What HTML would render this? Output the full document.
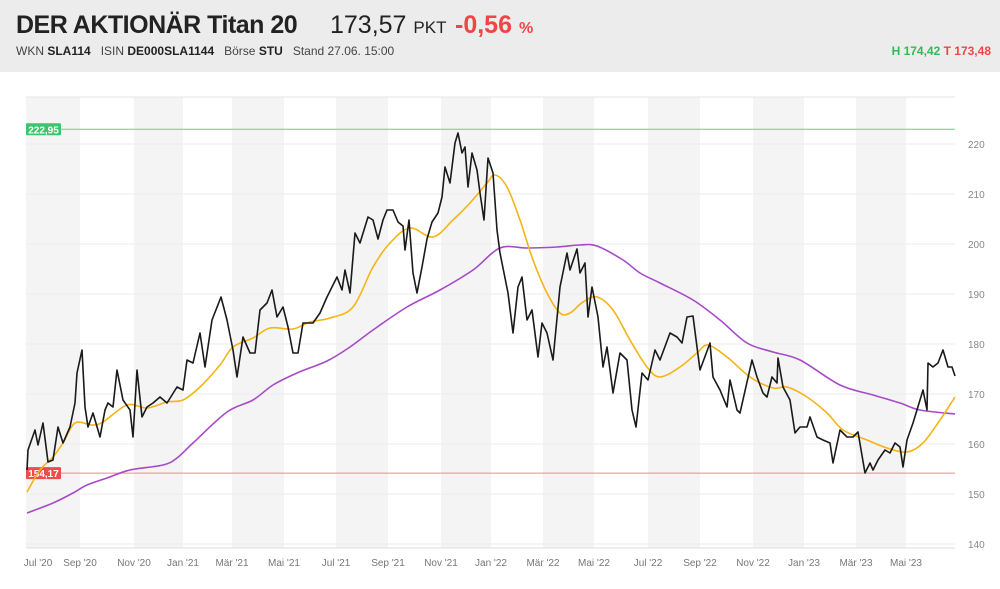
<!DOCTYPE html>
<html><head><meta charset="utf-8"><style>
body{margin:0;width:1000px;height:589px;background:#fff;font-family:"Liberation Sans",sans-serif;overflow:hidden}
#hdr{position:absolute;left:0;top:0;width:1000px;height:72px;background:#ececed}
.t{position:absolute;white-space:nowrap}
</style></head><body>
<div id="hdr">
 <div class="t" style="left:16px;top:11px;font-size:25px;font-weight:bold;color:#222;letter-spacing:-0.5px">DER AKTIONÄR Titan 20</div>
 <div class="t" style="left:330px;top:11px;font-size:25px;color:#222">173,57 <span style="font-size:17px">PKT</span></div>
 <div class="t" style="left:455px;top:11px;font-size:25px;font-weight:bold;color:#f04545">-0,56 <span style="font-size:16px">%</span></div>
 <div class="t" style="left:16px;top:44px;font-size:12px;color:#444">WKN <b style="color:#222">SLA114</b>&nbsp;&nbsp; ISIN <b style="color:#222">DE000SLA1144</b>&nbsp;&nbsp; Börse <b style="color:#222">STU</b>&nbsp;&nbsp; Stand 27.06. 15:00</div>
 <div class="t" style="right:9px;top:44px;font-size:12px;font-weight:bold"><span style="color:#2dbb55">H 174,42</span> <span style="color:#f04545">T 173,48</span></div>
</div>
<svg id="chart" width="1000" height="589" style="position:absolute;left:0;top:0"></svg>
<script>
const tickMonths=[0.32,2,4.16,6.12,8.08,10.16,12.24,14.32,16.44,18.44,20.52,22.56,24.72,26.8,28.92,30.96,33.04,35.04];
const tickLabels=["Jul '20","Sep '20","Nov '20","Jan '21","Mär '21","Mai '21","Jul '21","Sep '21","Nov '21","Jan '22","Mär '22","Mai '22","Jul '22","Sep '22","Nov '22","Jan '23","Mär '23","Mai '23"];
const yTicks=[140,150,160,170,180,190,200,210,220];
const highValue=222.95, lowValue=154.17;
const priceT=[-0.12,-0.08,0.2,0.32,0.52,0.72,0.92,1.12,1.32,1.6,1.8,1.88,2.08,2.2,2.32,2.52,2.8,3.0,3.12,3.32,3.48,3.72,4.0,4.12,4.28,4.48,4.68,4.92,5.2,5.48,5.88,6.12,6.28,6.52,6.8,7.0,7.28,7.64,7.88,8.12,8.28,8.52,8.8,9.0,9.2,9.48,9.68,9.88,10.12,10.32,10.52,10.72,10.92,11.32,11.6,11.88,12.28,12.48,12.6,12.8,13.0,13.2,13.52,13.72,13.92,14.12,14.28,14.52,14.72,14.92,15.0,15.16,15.32,15.48,15.68,15.88,16.08,16.32,16.48,16.6,16.8,17.0,17.12,17.28,17.4,17.52,17.68,17.88,18.0,18.16,18.32,18.52,18.68,18.8,18.96,19.12,19.32,19.52,19.68,19.88,20.08,20.32,20.48,20.68,20.92,21.2,21.48,21.6,21.88,22.0,22.2,22.32,22.48,22.72,22.92,23.08,23.32,23.6,23.88,24.08,24.24,24.48,24.72,25.0,25.2,25.6,25.88,26.08,26.28,26.52,26.68,26.8,27.2,27.32,27.6,27.88,28.0,28.28,28.4,28.88,29.08,29.32,29.48,29.68,29.88,29.92,30.12,30.4,30.6,30.8,31.08,31.2,31.48,31.72,32.0,32.12,32.4,32.68,32.92,33.12,33.4,33.6,33.72,33.92,34.2,34.4,34.6,34.8,34.92,35.08,35.32,35.6,35.72,35.88,35.92,36.12,36.32,36.52,36.72,36.88,37.0];
const priceV=[154.8,158.8,162.8,159.8,164.2,156.4,156.8,163.4,160.2,163.4,168.2,174.2,178.8,167.4,163.4,166.2,161.4,166.8,168.2,167.4,174.8,168.8,166.8,161.4,174.8,165.4,167.4,168.2,169.4,168.2,171.4,170.8,176.8,176.2,182.2,175.4,184.8,189.4,184.8,178.8,173.4,181.4,178.2,178.2,186.8,188.2,190.8,185.4,187.4,183.4,178.2,178.2,184.2,184.2,186.2,189.4,193.4,190.8,194.8,190.2,202.2,200.2,205.4,204.8,201,204.8,206.8,206.8,204.4,203.6,198.8,204.8,194.2,190.2,195.4,201,204.4,206.2,209.4,215.4,212.2,220.2,222.2,218.2,219.4,211.4,218.2,214.8,210.2,204.8,217.2,214.2,202.8,198.2,194.2,190.2,182.2,191.4,193.4,184.8,186.8,177.4,184.2,182.2,176.8,191.4,198.2,194.8,199,194.2,196.2,185.4,191.4,185.4,175.4,179.4,170.2,178.2,176.8,166.8,163.4,174.2,172.8,178.8,176.8,182.2,181.4,180.2,185.4,185.6,179.4,174.8,180.2,173.4,170.8,167.4,172.8,166.8,166.2,176.8,173.4,170.2,169.4,173.4,172.2,177.2,171.4,168.8,162.2,163.4,163.4,165.4,161.4,160.8,160.2,156.2,162.8,161.4,161.4,162.4,154.2,156.2,154.8,156.8,158.8,158.2,160.2,159.4,155.4,160.8,164.2,168.8,170.8,166.8,176.2,175.4,176.2,178.8,175.4,175.4,173.6];
const ma38T=[-0.12,0.4,0.92,1.32,1.8,2.48,2.92,3.88,4.68,5.48,6.12,6.8,7.6,8.12,8.92,9.6,10.52,11.2,12.0,12.92,13.72,14.4,15.2,16.12,16.92,17.6,18.28,18.6,19.08,19.6,20.12,20.68,21.2,21.6,22.12,22.68,23.32,24.0,24.68,25.2,26.0,26.68,27.12,27.88,28.8,29.72,30.28,31.08,31.88,32.52,33.48,34.28,35.08,35.72,36.4,37.0];
const ma38V=[150.4,154.8,157.4,160.2,164.2,163.8,164.4,167.8,167.2,168.4,168.8,171.4,175.8,179.4,181.2,183.2,183,184.4,185.2,187.4,195.4,200.2,203.2,201.4,204.8,208.2,212.2,213.8,211.4,204.8,196.8,190.2,186.2,186.2,188.4,189.4,186.8,180.8,175.4,173.4,175.4,178.2,179.8,177.4,173.4,171.2,171.4,169.4,166.2,162.8,160.8,159.2,158.4,160.2,164.8,169.4];
const ma200T=[-0.12,0.92,1.72,2.28,3.08,4.0,5.32,5.88,6.52,7.88,8.92,9.72,10.68,11.88,12.8,13.72,15.08,16.4,17.72,18.8,19.88,21.08,22.0,22.68,23.72,24.4,25.2,26.52,27.6,28.68,29.72,30.8,32.4,33.72,34.8,35.6,37.0];
const ma200V=[146.2,148.2,150.2,151.8,153.2,154.8,155.8,157.2,160.2,166.4,168.8,171.8,174.2,176.6,179.4,182.8,187.4,190.8,194.8,199.2,199.2,199.4,199.8,199.6,196.8,194.2,192.2,188.8,184.8,180.2,178.4,176.8,171.8,169.8,168.2,166.8,166];

const L=26,R=955,TOP=97,BOT=548;
const X=m=>30+m*25;
const Y=v=>544-(v-140)*5;
const svg=document.getElementById('chart');
const NS='http://www.w3.org/2000/svg';
function mk(tag,attrs,parent){const e=document.createElementNS(NS,tag);for(const k in attrs)e.setAttribute(k,attrs[k]);(parent||svg).appendChild(e);return e;}
// bands
for(let i=0;i<tickMonths.length;i+=2){
  const x0=i===0?L:X(tickMonths[i]); const x1=i+1<tickMonths.length?X(tickMonths[i+1]):R;
  const b=mk('rect',{x:x0,y:TOP,width:x1-x0,height:BOT-TOP,fill:'#f4f4f4'});
  
  
}
// top border
const tb=mk('line',{x1:L,x2:R,y1:TOP,y2:TOP,stroke:'#e6e6e6'});


yTicks.forEach(v=>{
  const g=mk('line',{x1:L,x2:R,y1:Y(v),y2:Y(v),stroke:'#ebebeb','stroke-width':1});
  
  
  const t=mk('text',{x:968,y:Y(v)+4,'font-size':10,fill:'#888','font-family':'Liberation Sans, sans-serif'});
  t.textContent=v;
  
  
});
const ax=mk('line',{x1:L,x2:R,y1:BOT,y2:BOT,stroke:'#ddd'});


tickMonths.forEach((m,i)=>{
  const t=mk('text',{x:i===0?Math.max(X(m),38):X(m),y:566,'font-size':10,fill:'#777','text-anchor':'middle','font-family':'Liberation Sans, sans-serif'});
  t.textContent=tickLabels[i];
  
  
});
function refLine(v,lc,bc,name){
  const l=mk('line',{x1:L,x2:R,y1:Y(v),y2:Y(v),stroke:lc,'stroke-width':1});
  
  
  const r=mk('rect',{x:L,y:Y(v)-6,width:35,height:12,fill:bc,rx:1});
  
  
  const t=mk('text',{x:L+17.5,y:Y(v)+4,'font-size':10,fill:'#fff','text-anchor':'middle','font-weight':'bold','font-family':'Liberation Sans, sans-serif'});
  t.textContent=v.toFixed(2).replace('.',',');
  
  
}
refLine(highValue,'#5fd48a','#3cc46e','high');
refLine(lowValue,'#f08a8a','#f04a4a','low');
function smooth(ts,vs){
  const p=ts.map((t,i)=>[X(t),Y(vs[i])]);let d='M'+p[0][0]+','+p[0][1];
  for(let i=0;i<p.length-1;i++){const p0=p[i-1]||p[i],p1=p[i],p2=p[i+1],p3=p[i+2]||p2;
    d+=' C'+(p1[0]+(p2[0]-p0[0])/6)+','+(p1[1]+(p2[1]-p0[1])/6)+' '+(p2[0]-(p3[0]-p1[0])/6)+','+(p2[1]-(p3[1]-p1[1])/6)+' '+p2[0]+','+p2[1];}
  return d;
}
const pm=mk('path',{d:smooth(ma200T,ma200V),fill:'none',stroke:'#a64ac9','stroke-width':1.6});


const om=mk('path',{d:smooth(ma38T,ma38V),fill:'none',stroke:'#f5b316','stroke-width':1.6});


const pl=mk('polyline',{points:priceT.map((t,i)=>X(t)+','+Y(priceV[i])).join(' '),fill:'none',stroke:'#1a1a1a','stroke-width':1.6,'stroke-linejoin':'round'});


</script>
</body></html>
